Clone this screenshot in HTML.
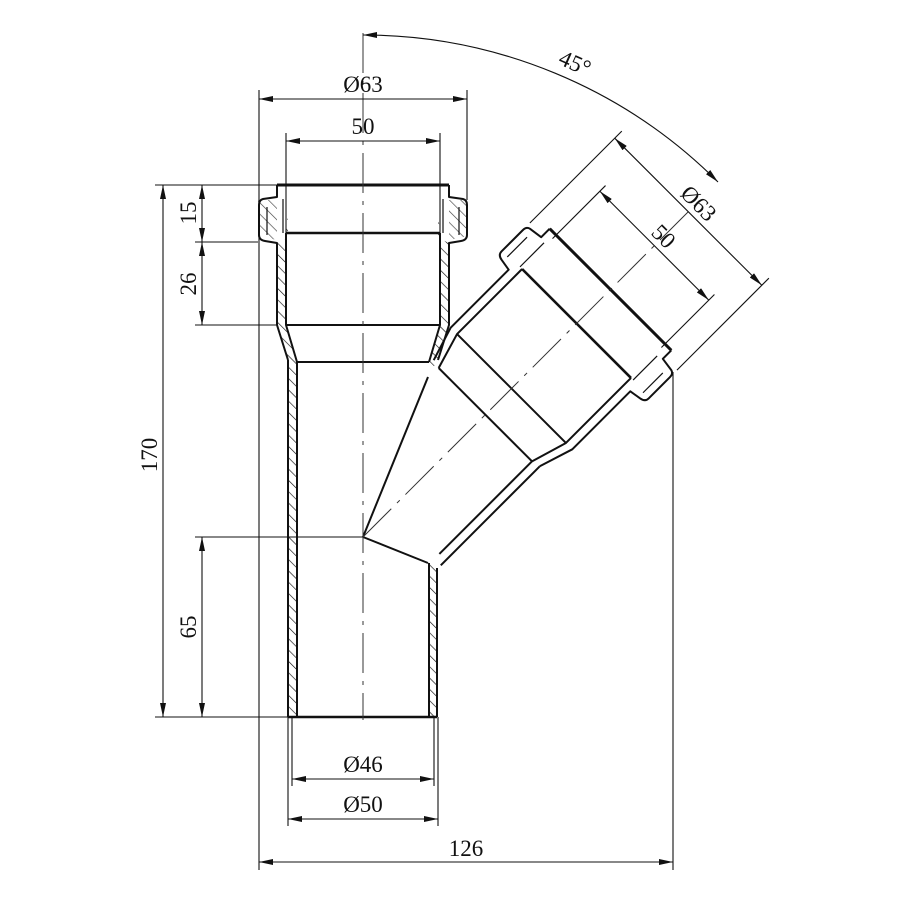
<!DOCTYPE html>
<html><head><meta charset="utf-8"><style>
html,body{margin:0;padding:0;background:#fff}
svg{display:block}
text{font-family:"Liberation Serif",serif;font-size:23px;fill:#111}
</style></head><body>
<svg width="900" height="900" viewBox="0 0 900 900" xmlns="http://www.w3.org/2000/svg">
<defs>
<pattern id="h" patternUnits="userSpaceOnUse" width="8" height="8" patternTransform="rotate(-45)">
<rect width="8" height="8" fill="#fff"/><line x1="0" y1="0" x2="0" y2="8" stroke="#111" stroke-width="1.3"/>
</pattern>
<marker id="a" viewBox="0 0 14 6" refX="14" refY="3" markerWidth="14" markerHeight="6" markerUnits="userSpaceOnUse" orient="auto-start-reverse">
<path d="M0,0 L14,3 L0,6 Z" fill="#111"/></marker>
<g id="sock" fill="none" stroke="#111" stroke-width="2" stroke-linejoin="round">
<path d="M-86,0 L-86,12 L-100,14 Q-104,15 -104,20 L-104,50 Q-104,55 -98,56 L-86,58 L-86,140 L-75,175" />
<path d="M86,0 L86,12 L100,14 Q104,15 104,20 L104,50 Q104,55 98,56 L86,58 L86,140 L75,175" />
<path d="M-96,22 L-96,50 M96,22 L96,50 M-80,14 L-80,48 M80,14 L80,48" stroke-width="1.2"/>
<line x1="-86" y1="0" x2="86" y2="0" stroke-width="3"/>
<line x1="-77" y1="48" x2="77" y2="48" stroke-width="2.6"/>
<line x1="-77" y1="140" x2="77" y2="140"/>
<line x1="-66" y1="177" x2="66" y2="177"/>
<path d="M-77,48 L-77,140 L-66,177 M77,48 L77,140 L66,177"/>
</g>
</defs>

<path d="M288,212 L288,238 L277,243 L277,325 L288,360 L288,717 L297,717 L297,362 L286,325 L286,233 Z" fill="url(#h)"/>
<path d="M438,212 L438,238 L449,243 L449,325 L437,362 L430,372 L429,362 L440,325 L440,233 Z" fill="url(#h)"/>
<path d="M437,568 L437,717 L429,717 L429,563 Z" fill="url(#h)"/>
<path d="M258,200 L258,236 L277,240 L277,200 Z M468,200 L468,236 L449,240 L449,200 Z" fill="url(#h)" opacity="0.8"/>

<use href="#sock" transform="translate(363,185)"/>
<g stroke="#111" stroke-width="2" fill="none">
<line x1="288" y1="360" x2="288" y2="717"/>
<line x1="297" y1="362" x2="297" y2="717"/>
<line x1="437" y1="568" x2="437" y2="717"/>
<line x1="429" y1="563" x2="429" y2="717"/>
<line x1="288" y1="717" x2="437" y2="717" stroke-width="2.6"/>
<line x1="363" y1="537" x2="428" y2="377"/>
<line x1="363" y1="537" x2="428" y2="563"/>
</g>

<g transform="translate(363,537) rotate(-45)">
<use href="#sock" transform="translate(350,0) rotate(90)"/>
<g stroke="#111" stroke-width="2" fill="none">
<line x1="35" y1="75" x2="175" y2="75"/>
<line x1="42" y1="66" x2="173" y2="66"/>
</g>
<line x1="0" y1="0" x2="470" y2="0" stroke="#333" stroke-width="1" stroke-dasharray="40,8,4,8"/>
<g stroke="#111" stroke-width="1.1" fill="none">
<line x1="340" y1="-104" x2="470" y2="-104"/>
<line x1="340" y1="104" x2="470" y2="104"/>
<line x1="345" y1="-77" x2="420" y2="-77"/>
<line x1="345" y1="77" x2="420" y2="77"/>
<line x1="460" y1="-104" x2="460" y2="104" marker-start="url(#a)" marker-end="url(#a)"/>
<line x1="412" y1="-77" x2="412" y2="77" marker-start="url(#a)" marker-end="url(#a)"/>
</g>
</g>
<text transform="translate(697,205) rotate(45)" text-anchor="middle" dominant-baseline="middle">Ø63</text>
<text transform="translate(662,238) rotate(45)" text-anchor="middle" dominant-baseline="middle">50</text>

<line x1="363" y1="33" x2="363" y2="720" stroke="#333" stroke-width="1" stroke-dasharray="40,8,4,8"/>

<path d="M363,35 A502,502 0 0 1 718,182" fill="none" stroke="#111" stroke-width="1.1" marker-start="url(#a)" marker-end="url(#a)"/>
<text transform="translate(572,70) rotate(24)" text-anchor="middle">45°</text>

<g stroke="#111" stroke-width="1.1" fill="none">
<line x1="259" y1="90" x2="259" y2="870"/>
<line x1="467" y1="90" x2="467" y2="200"/>
<line x1="286" y1="133" x2="286" y2="233"/>
<line x1="440" y1="133" x2="440" y2="233"/>
<line x1="259" y1="99" x2="467" y2="99" marker-start="url(#a)" marker-end="url(#a)"/>
<line x1="286" y1="141" x2="440" y2="141" marker-start="url(#a)" marker-end="url(#a)"/>
<line x1="155" y1="185" x2="277" y2="185"/>
<line x1="155" y1="717" x2="288" y2="717"/>
<line x1="195" y1="242" x2="258" y2="242"/>
<line x1="195" y1="325" x2="277" y2="325"/>
<line x1="195" y1="537" x2="363" y2="537"/>
<line x1="163" y1="185" x2="163" y2="717" marker-start="url(#a)" marker-end="url(#a)"/>
<line x1="202" y1="185" x2="202" y2="242" marker-start="url(#a)" marker-end="url(#a)"/>
<line x1="202" y1="242" x2="202" y2="325" marker-start="url(#a)" marker-end="url(#a)"/>
<line x1="202" y1="537" x2="202" y2="717" marker-start="url(#a)" marker-end="url(#a)"/>
<line x1="292" y1="717" x2="292" y2="786"/>
<line x1="434" y1="717" x2="434" y2="786"/>
<line x1="288" y1="717" x2="288" y2="826"/>
<line x1="438" y1="717" x2="438" y2="826"/>
<line x1="292" y1="779" x2="434" y2="779" marker-start="url(#a)" marker-end="url(#a)"/>
<line x1="288" y1="819" x2="438" y2="819" marker-start="url(#a)" marker-end="url(#a)"/>
<line x1="673" y1="372" x2="673" y2="870"/>
<line x1="259" y1="862" x2="673" y2="862" marker-start="url(#a)" marker-end="url(#a)"/>
</g>

<text x="363" y="92" text-anchor="middle">Ø63</text>
<text x="363" y="134" text-anchor="middle">50</text>
<text x="363" y="772" text-anchor="middle">Ø46</text>
<text x="363" y="812" text-anchor="middle">Ø50</text>
<text x="466" y="856" text-anchor="middle">126</text>
<text transform="translate(157,455) rotate(-90)" text-anchor="middle">170</text>
<text transform="translate(196,213) rotate(-90)" text-anchor="middle">15</text>
<text transform="translate(196,284) rotate(-90)" text-anchor="middle">26</text>
<text transform="translate(196,627) rotate(-90)" text-anchor="middle">65</text>
</svg>
</body></html>
